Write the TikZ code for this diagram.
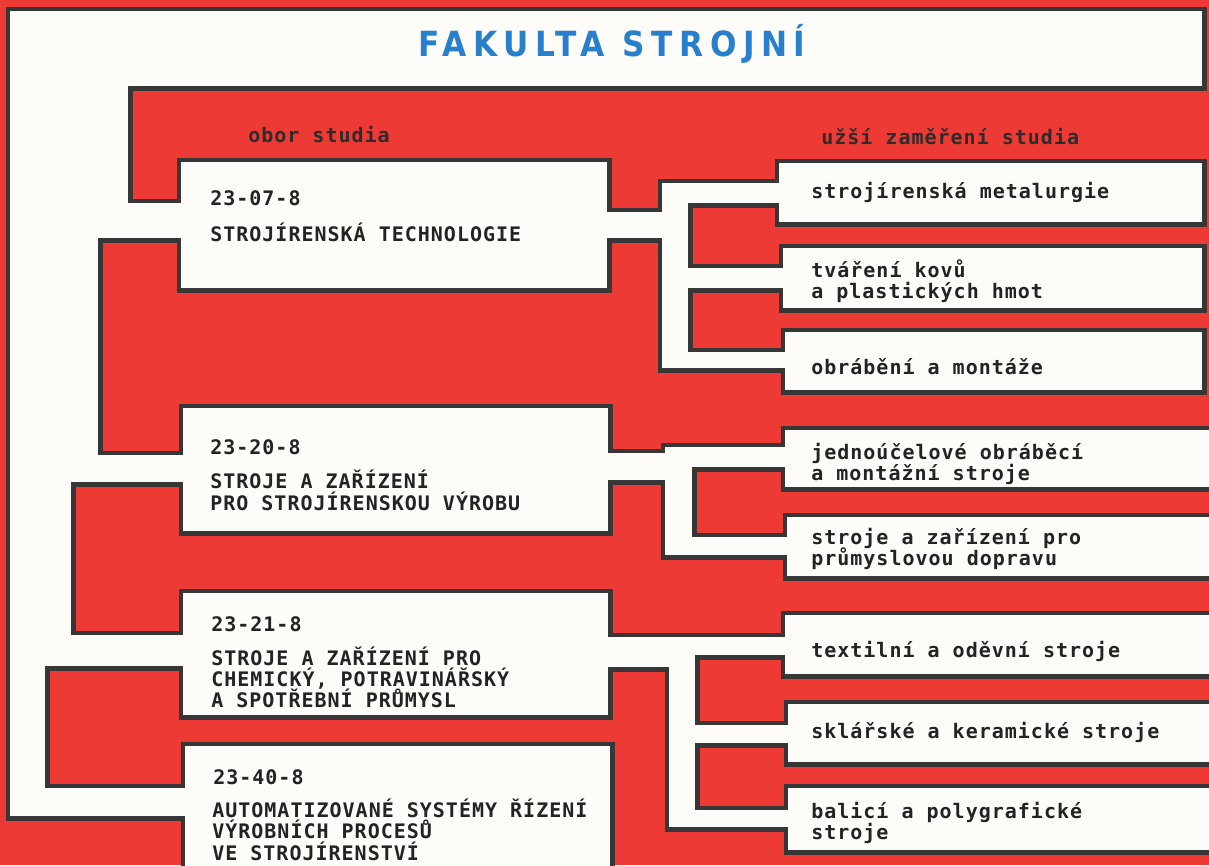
\documentclass[tikz,border=0pt]{standalone}
\usepackage{fontspec}
\newfontfamily\twfont[LetterSpace=5]{DejaVu Sans Mono}
\newfontfamily\ttlfont[LetterSpace=19]{DejaVu Sans Condensed}
\definecolor{bgred}{RGB}{238,58,52}
\definecolor{paper}{RGB}{253,252,248}
\definecolor{edge}{RGB}{55,55,55}
\definecolor{ttlblue}{RGB}{40,128,205}
\definecolor{ink}{RGB}{35,35,35}
\tikzset{
  txt/.style={font=\twfont\bfseries\fontsize{15pt}{18pt}\selectfont, text=ink, anchor=base west, inner sep=0pt},
  lbl/.style={txt, text=edge!80!black},
  ttl/.style={font=\ttlfont\bfseries\fontsize{26pt}{30pt}\selectfont, text=ttlblue, anchor=base, inner sep=0pt},
  outline/.style={draw=edge, line width=6.75pt, line join=miter},
  whitefill/.style={fill=paper}
}
\begin{document}
\begin{tikzpicture}[x=0.75pt,y=-0.75pt]
\useasboundingbox (0,0) rectangle (1209,865);
\fill[bgred] (0,0) rectangle (1209,865);
\clip (0,0) rectangle (1209,865);
\def\rects{10/11/1202/86, 10/20/128/238, 100/203/200/238, 10/200/98/482, 50/455/200/482,
 10/470/71/666, 30/635/200/666, 10/650/45/816, 10/788/200/816,
 181/162/607/288, 183/408/608/531, 183/593/608/715, 185/746/610/890,
 590/212/680/238, 662/183/688/368, 670/183/790/203, 670/268/790/288, 670/352/790/368,
 779/163/1202/222, 783/248/1202/308, 785/332/1202/390,
 590/453/680/480, 665/447/692/555, 670/447/790/467, 670/537/790/555,
 785/430/1230/487, 787/517/1230/576,
 590/637/680/667, 669/637/695/827, 680/637/790/655, 680/725/790/743, 680/810/790/827,
 785/615/1230/674, 788/704/1230/762, 788/788/1230/850}
\foreach \ax/\ay/\bx/\by in \rects { \draw[outline] (\ax,\ay) rectangle (\bx,\by); }
\foreach \ax/\ay/\bx/\by in \rects { \fill[whitefill] (\ax,\ay) rectangle (\bx,\by); }

\node[ttl] (title) at (612,56) {FAKULTA STROJNÍ};
\node[lbl] (obor) at (248,142) {obor studia};
\node[lbl] (uzsi) at (821,144) {užší zaměření studia};

\node[txt] (b1c) at (210,205) {23-07-8};
\node[txt] (b1t) at (210,241) {STROJÍRENSKÁ TECHNOLOGIE};
\node[txt] (b2c) at (210,454) {23-20-8};
\node[txt] (b2ta) at (210,488) {STROJE A ZAŘÍZENÍ};
\node[txt] (b2tb) at (210,510) {PRO STROJÍRENSKOU VÝROBU};
\node[txt] (b3c) at (211,631) {23-21-8};
\node[txt] (b3ta) at (211,665) {STROJE A ZAŘÍZENÍ PRO};
\node[txt] (b3tb) at (211,686) {CHEMICKÝ, POTRAVINÁŘSKÝ};
\node[txt] (b3tc) at (211,707) {A SPOTŘEBNÍ PRŮMYSL};
\node[txt] (b4c) at (213,784) {23-40-8};
\node[txt] (b4ta) at (212,817) {AUTOMATIZOVANÉ SYSTÉMY ŘÍZENÍ};
\node[txt] (b4tb) at (212,838) {VÝROBNÍCH PROCESŮ};
\node[txt] (b4tc) at (212,860) {VE STROJÍRENSTVÍ};

\node[txt] (k1) at (811,198) {strojírenská metalurgie};
\node[txt] (k2a) at (811,277) {tváření kovů};
\node[txt] (k2b) at (811,298) {a plastických hmot};
\node[txt] (k3) at (811,374) {obrábění a montáže};
\node[txt] (k4a) at (811,459) {jednoúčelové obráběcí};
\node[txt] (k4b) at (811,480) {a montážní stroje};
\node[txt] (k5a) at (811,544) {stroje a zařízení pro};
\node[txt] (k5b) at (811,565) {průmyslovou dopravu};
\node[txt] (k6) at (811,657) {textilní a oděvní stroje};
\node[txt] (k7) at (811,738) {sklářské a keramické stroje};
\node[txt] (k8a) at (811,818) {balicí a polygrafické};
\node[txt] (k8b) at (811,839) {stroje};
\end{tikzpicture}
\end{document}
